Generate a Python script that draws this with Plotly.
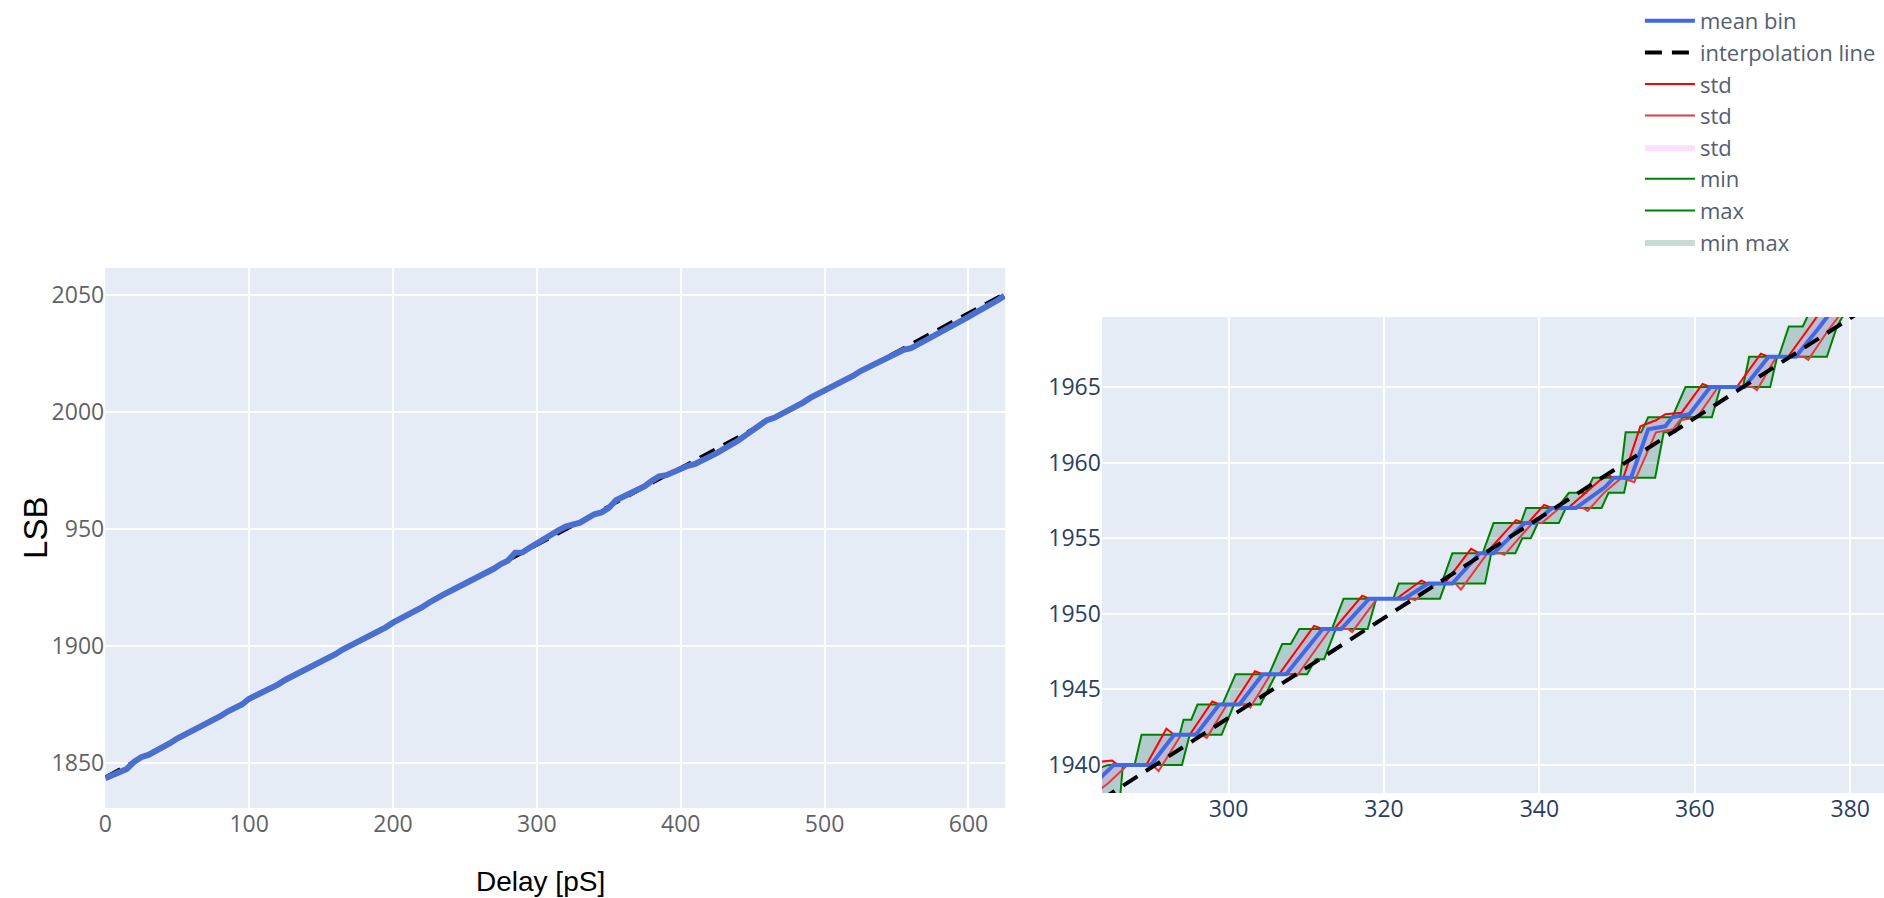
import plotly.graph_objects as go

# ---------------- overview (left panel) ----------------
overview_delay = [0, 5, 10, 15, 20, 25, 30, 35, 40, 45, 50, 55, 60, 65, 70, 75, 80, 85, 90, 95,
                  100, 105, 110, 115, 120, 125, 130, 135, 140, 145, 150, 155, 160, 165, 170, 175,
                  180, 185, 190, 195, 200, 205, 210, 215, 220, 225, 230, 235, 240, 245, 250, 255,
                  260, 265, 270, 275, 280, 285, 290, 295, 300, 305, 310, 315, 320, 325, 330, 335,
                  340, 345, 350, 355, 360, 365, 370, 375, 380, 385, 390, 395, 400, 405, 410, 415,
                  420, 425, 430, 435, 440, 445, 450, 455, 460, 465, 470, 475, 480, 485, 490, 495,
                  500, 505, 510, 515, 520, 525, 530, 535, 540, 545, 550, 555, 560, 565, 570, 575,
                  580, 585, 590, 595, 600, 605, 610, 615, 620, 625]
overview_mean = [1843.5, 1845.0, 1846.0, 1847.5, 1850.5, 1852.5, 1853.5, 1855.0, 1857.0, 1858.5,
                 1860.5, 1862.0, 1863.5, 1865.0, 1867.0, 1868.5, 1870.0, 1872.0, 1873.5, 1875.0,
                 1877.5, 1879.0, 1880.0, 1881.5, 1883.5, 1885.5, 1887.0, 1888.5, 1890.0, 1891.5,
                 1893.5, 1895.0, 1896.5, 1898.5, 1900.0, 1901.5, 1903.0, 1904.5, 1906.5, 1908.0,
                 1910.0, 1911.5, 1913.0, 1915.0, 1916.5, 1918.5, 1920.5, 1922.0, 1923.5, 1925.0,
                 1926.5, 1928.0, 1929.5, 1931.0, 1933.0, 1935.0, 1936.5, 1939.9, 1940.0, 1942.0,
                 1944.0, 1946.0, 1947.6, 1949.4, 1951.0, 1951.8, 1952.7, 1954.5, 1956.3, 1957.1,
                 1959.0, 1962.3, 1963.7, 1965.0, 1967.0, 1968.3, 1970.6, 1972.5, 1973.0, 1974.5,
                 1975.5, 1977.0, 1977.8, 1979.2, 1980.8, 1982.4, 1984.2, 1985.8, 1987.8, 1990.0,
                 1992.0, 1994.5, 1996.5, 1997.5, 1999.0, 2000.5, 2002.5, 2004.0, 2006.0, 2007.5,
                 2009.0, 2010.5, 2012.5, 2014.0, 2015.5, 2017.5, 2019.0, 2020.5, 2022.0, 2023.5,
                 2025.0, 2026.5, 2027.2, 2028.8, 2030.4, 2032.2, 2034.0, 2035.6, 2037.2, 2039.0,
                 2040.6, 2042.4, 2044.0, 2045.8, 2047.6, 2049.6]

interp_delay = [0, 625]
interp_lsb = [1844.0, 2050.5]

# ---------------- detail (right panel) ----------------
mean_x = [283.0, 285.2, 290.0, 293.0, 295.8, 298.8, 301.4, 304.4, 307.4, 312.1, 314.5, 318.1,
          322.6, 325.7, 328.8, 332.3, 334.1, 338.1, 339.4, 341.6, 344.7, 347.3, 348.5, 349.6,
          351.8, 354.0, 356.2, 357.1, 359.3, 362.0, 366.4, 369.5, 373.0, 376.1, 378.0, 386.0]
mean_y = [1938.9, 1940.0, 1940.0, 1942.0, 1942.0, 1944.0, 1944.0, 1946.0, 1946.0, 1949.0, 1949.0,
          1951.0, 1951.0, 1952.0, 1952.0, 1954.0, 1954.0, 1956.0, 1956.0, 1957.0, 1957.0, 1958.0,
          1958.4, 1959.0, 1959.0, 1962.2, 1962.4, 1963.0, 1963.2, 1965.0, 1965.0, 1967.0, 1967.0,
          1969.0, 1970.3, 1972.5]

std_hi_x = [283.0, 285.0, 285.8, 289.4, 292.0, 293.0, 295.0, 297.9, 298.8, 300.6, 303.4, 304.4,
            306.5, 311.0, 312.1, 313.6, 317.2, 318.1, 321.6, 324.8, 325.7, 327.8, 331.2, 332.3,
            333.1, 337.0, 338.1, 338.5, 340.6, 341.6, 343.7, 346.3, 348.6, 349.6, 350.8, 353.0,
            355.0, 356.2, 358.3, 361.0, 362.0, 365.4, 368.5, 369.5, 372.0, 375.1, 377.0, 386.0]
std_hi_y = [1940.2, 1940.3, 1940.0, 1940.0, 1942.4, 1942.0, 1942.0, 1944.2, 1944.0, 1944.0,
            1946.2, 1946.0, 1946.0, 1949.2, 1949.0, 1949.0, 1951.2, 1951.0, 1951.0, 1952.2,
            1952.0, 1952.0, 1954.3, 1954.0, 1954.0, 1956.2, 1956.0, 1956.0, 1957.2, 1957.0,
            1957.0, 1958.2, 1959.2, 1959.0, 1959.0, 1962.4, 1962.8, 1963.2, 1963.3, 1965.2,
            1965.0, 1965.0, 1967.2, 1967.0, 1967.0, 1969.2, 1970.6, 1973.0]

std_lo_x = [283.0, 284.5, 287.0, 290.2, 291.0, 293.9, 296.5, 297.2, 299.8, 302.2, 302.8, 305.4,
            308.3, 308.8, 313.1, 315.4, 315.9, 319.1, 323.5, 324.0, 326.7, 329.2, 329.9, 333.3,
            335.0, 335.5, 339.1, 340.3, 342.6, 345.6, 346.2, 348.3, 350.6, 352.2, 355.0, 357.2,
            358.1, 360.3, 363.0, 367.4, 368.0, 370.5, 374.0, 374.6, 377.1, 379.0, 386.0]
std_lo_y = [1938.2, 1938.8, 1940.0, 1940.0, 1939.6, 1942.0, 1942.0, 1941.8, 1944.0, 1944.0,
            1943.8, 1946.0, 1946.0, 1945.9, 1949.0, 1949.0, 1948.8, 1951.0, 1951.0, 1950.9,
            1952.0, 1952.0, 1951.6, 1954.0, 1954.0, 1953.9, 1956.0, 1956.0, 1957.0, 1957.0,
            1956.8, 1958.0, 1959.0, 1958.7, 1962.0, 1962.2, 1962.8, 1963.0, 1965.0, 1965.0,
            1964.8, 1967.0, 1967.0, 1966.8, 1968.7, 1970.0, 1972.0]

min_x = [282.0, 286.0, 286.4, 294.0, 295.0, 299.1, 300.7, 304.1, 306.1, 310.1, 311.2, 312.3,
         313.8, 317.9, 319.0, 327.2, 327.9, 333.0, 333.8, 336.9, 337.8, 338.9, 339.8, 342.5,
         343.4, 348.0, 348.9, 350.9, 351.3, 354.9, 356.0, 357.5, 358.4, 362.2, 363.3, 369.7,
         370.6, 377.0, 378.3, 380.5, 386.0]
min_y = [1936.0, 1937.6, 1940.0, 1940.0, 1942.0, 1942.0, 1944.0, 1944.0, 1946.0, 1946.0, 1947.0,
         1947.0, 1949.0, 1949.0, 1951.0, 1951.0, 1952.0, 1952.0, 1954.0, 1954.0, 1955.0, 1955.0,
         1956.0, 1956.0, 1957.0, 1957.0, 1958.0, 1958.0, 1959.0, 1959.0, 1962.0, 1962.0, 1963.0,
         1963.0, 1965.0, 1965.0, 1967.0, 1967.0, 1969.0, 1971.0, 1972.0]

max_x = [282.0, 284.5, 287.9, 288.8, 293.7, 294.2, 295.2, 296.0, 299.2, 300.9, 305.2, 306.9,
         308.0, 309.1, 313.3, 314.8, 321.2, 321.9, 327.4, 328.8, 332.7, 334.1, 337.6, 338.3,
         342.3, 343.8, 346.0, 346.9, 350.4, 351.1, 353.1, 354.0, 357.1, 358.8, 366.2, 367.0,
         370.8, 372.1, 373.9, 375.7, 386.0]
max_y = [1939.6, 1940.0, 1940.0, 1942.0, 1942.0, 1943.0, 1943.0, 1944.0, 1944.0, 1946.0, 1946.0,
         1948.0, 1948.0, 1949.0, 1949.0, 1951.0, 1951.0, 1952.0, 1952.0, 1954.0, 1954.0, 1956.0,
         1956.0, 1957.0, 1957.0, 1958.0, 1958.0, 1959.0, 1959.0, 1962.0, 1962.0, 1963.0, 1963.0,
         1965.0, 1965.0, 1967.0, 1967.0, 1969.0, 1969.0, 1971.0, 1973.0]

# ---------------- ticks ----------------
left_xticks = [0, 100, 200, 300, 400, 500, 600]
left_yticks = [1850, 1900, 1950, 2000, 2050]
left_yticktext = ["1850", "1900", "950", "2000", "2050"]
right_xticks = [300, 320, 340, 360, 380]
right_yticks = [1940, 1945, 1950, 1955, 1960, 1965]

BLUE = "royalblue"
DASH = "17px,10px"

fig = go.Figure()

# left panel (overview)
fig.add_trace(go.Scatter(x=interp_delay, y=interp_lsb, mode="lines", showlegend=False,
                         line=dict(color="black", width=3.5, dash=DASH),
                         xaxis="x", yaxis="y", hoverinfo="skip"))
fig.add_trace(go.Scatter(x=overview_delay, y=overview_mean, mode="lines", showlegend=False,
                         line=dict(color="#4a6fcf", width=6),
                         xaxis="x", yaxis="y"))

# right panel (detail) - fills first so the lines stay on top; legendrank keeps legend order
fig.add_trace(go.Scatter(x=max_x + min_x[::-1], y=max_y + min_y[::-1],
                         mode="lines", name="min max", fill="toself", legendrank=8,
                         fillcolor="rgba(0,90,60,0.22)", line=dict(width=0),
                         xaxis="x2", yaxis="y2"))
fig.add_trace(go.Scatter(x=std_hi_x + std_lo_x[::-1], y=std_hi_y + std_lo_y[::-1],
                         mode="lines", name="std", fill="toself", legendrank=5,
                         fillcolor="rgba(238,130,238,0.25)", line=dict(width=0),
                         xaxis="x2", yaxis="y2"))
fig.add_trace(go.Scatter(x=min_x, y=min_y, mode="lines", name="min", legendrank=6,
                         line=dict(color="green", width=2), xaxis="x2", yaxis="y2"))
fig.add_trace(go.Scatter(x=max_x, y=max_y, mode="lines", name="max", legendrank=7,
                         line=dict(color="green", width=2), xaxis="x2", yaxis="y2"))
fig.add_trace(go.Scatter(x=std_hi_x, y=std_hi_y, mode="lines", name="std", legendrank=3,
                         line=dict(color="red", width=2), xaxis="x2", yaxis="y2"))
fig.add_trace(go.Scatter(x=std_lo_x, y=std_lo_y, mode="lines", name="std", legendrank=4,
                         line=dict(color="#e23c3c", width=2), xaxis="x2", yaxis="y2"))
fig.add_trace(go.Scatter(x=mean_x, y=mean_y, mode="lines", name="mean bin", legendrank=1,
                         line=dict(color=BLUE, width=4), xaxis="x2", yaxis="y2"))
fig.add_trace(go.Scatter(x=interp_delay, y=interp_lsb, mode="lines", name="interpolation line",
                         legendrank=2, line=dict(color="black", width=4, dash=DASH),
                         xaxis="x2", yaxis="y2"))

W, H = 1884, 898
left_font = dict(family="Open Sans, verdana, arial, sans-serif", size=23, color="#5f6368")
right_font = dict(family="Open Sans, verdana, arial, sans-serif", size=23, color="#2a3f5f")

fig.update_layout(
    width=W, height=H,
    margin=dict(l=0, r=0, t=0, b=0),
    paper_bgcolor="white",
    plot_bgcolor="#E5ECF6",
    xaxis=dict(domain=[98.6 / W, 1002 / W], range=[0, 625.6], tickvals=left_xticks,
               tickfont=left_font, gridcolor="white", gridwidth=2, zeroline=False,
               showline=False, anchor="y"),
    yaxis=dict(domain=[1 - 808 / H, 1 - 268 / H], range=[1830.8, 2061.5],
               tickvals=left_yticks, ticktext=left_yticktext, tickfont=left_font,
               gridcolor="white", gridwidth=2, zeroline=False, anchor="x"),
    xaxis2=dict(domain=[1099 / W, 1.0], range=[283.7, 384.35], tickvals=right_xticks,
                tickfont=right_font, gridcolor="white", gridwidth=2, zeroline=False,
                anchor="y2"),
    yaxis2=dict(domain=[1 - 793 / H, 1 - 317 / H], range=[1938.15, 1969.63],
                tickvals=right_yticks, tickfont=right_font, gridcolor="white", gridwidth=2,
                zeroline=False, anchor="x2"),
    legend=dict(x=1639 / W, xanchor="left", y=1.0, yanchor="top",
                font=dict(family="Open Sans, verdana, arial, sans-serif", size=22,
                          color="#55606f"),
                itemwidth=50, bgcolor="rgba(255,255,255,0)", borderwidth=0),
    annotations=[
        dict(text="LSB", xref="paper", yref="paper", x=28 / W, y=1 - 528 / H,
             xanchor="center", yanchor="middle", textangle=-90, showarrow=False,
             font=dict(family="Liberation Sans, Arial, sans-serif", size=33, color="black")),
        dict(text="Delay [pS]", xref="paper", yref="paper", x=535 / W, y=1 - 881 / H,
             xanchor="center", yanchor="middle", showarrow=False,
             font=dict(family="Liberation Sans, Arial, sans-serif", size=28, color="black")),
    ],
)

fig.write_html("out.html")
